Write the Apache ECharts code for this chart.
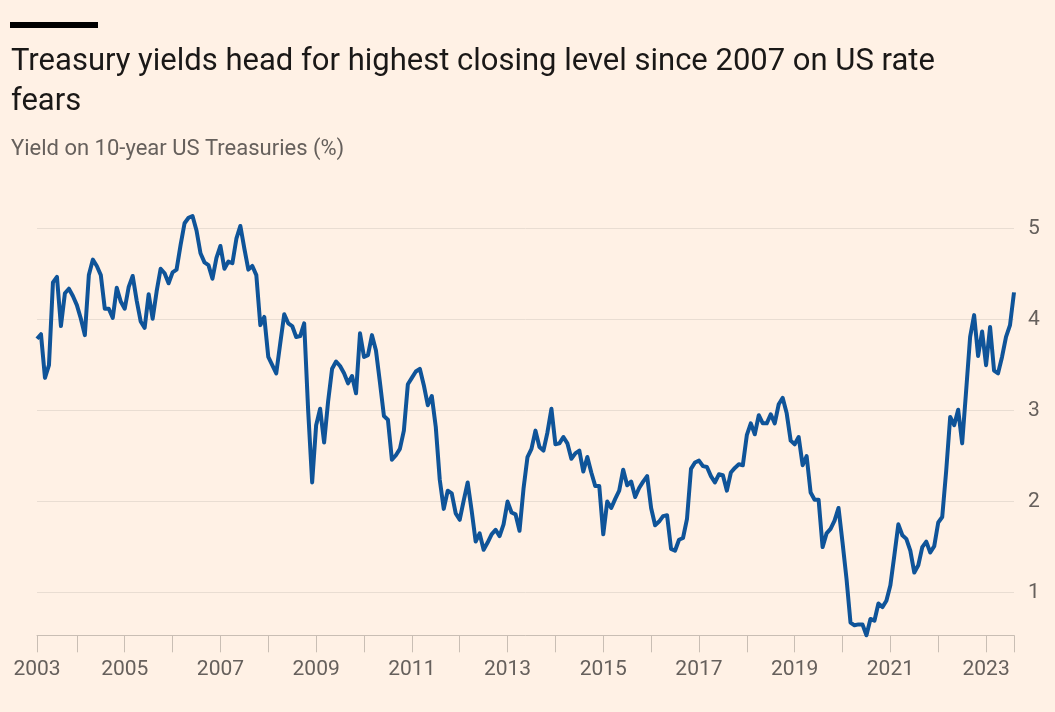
<!DOCTYPE html>
<html><head><meta charset="utf-8">
<script src="https://cdn.jsdelivr.net/npm/echarts@6/dist/echarts.min.js"></script>
<style>html,body{margin:0;padding:0;background:#fff1e5}#c{width:1055px;height:712px}</style>
</head><body><div id="c"></div><script>
const titleText = 'Treasury yields head for highest closing level since 2007 on US rate\nfears';
const subtitleText = 'Yield on 10-year US Treasuries (%)';

// Month-end yields; 2003 starts in March, 2023 ends in August
const startMonth2003 = 3;
const y2003 = [3.79, 3.84, 3.36, 3.50, 4.41, 4.47, 3.93, 4.29, 4.34, 4.26];
const y2004 = [4.16, 4.01, 3.83, 4.49, 4.66, 4.59, 4.49, 4.12, 4.12, 4.02, 4.35, 4.20];
const y2005 = [4.12, 4.36, 4.48, 4.21, 3.98, 3.91, 4.28, 4.01, 4.31, 4.56, 4.51, 4.40];
const y2006 = [4.52, 4.55, 4.82, 5.06, 5.12, 5.14, 4.98, 4.73, 4.63, 4.60, 4.45, 4.68];
const y2007 = [4.81, 4.56, 4.64, 4.62, 4.89, 5.03, 4.78, 4.55, 4.59, 4.49, 3.94, 4.03];
const y2008 = [3.59, 3.50, 3.41, 3.74, 4.06, 3.96, 3.93, 3.81, 3.82, 3.96, 3.00, 2.21];
const y2009 = [2.84, 3.02, 2.65, 3.10, 3.46, 3.54, 3.49, 3.41, 3.30, 3.38, 3.19, 3.85];
const y2010 = [3.59, 3.61, 3.83, 3.66, 3.31, 2.94, 2.90, 2.46, 2.51, 2.58, 2.78, 3.29];
const y2011 = [3.36, 3.43, 3.46, 3.28, 3.06, 3.16, 2.82, 2.24, 1.92, 2.12, 2.09, 1.87];
const y2012 = [1.80, 2.01, 2.21, 1.90, 1.56, 1.65, 1.47, 1.55, 1.64, 1.69, 1.62, 1.75];
const y2013 = [2.00, 1.88, 1.86, 1.68, 2.14, 2.49, 2.58, 2.78, 2.60, 2.56, 2.76, 3.02];
const y2014 = [2.63, 2.64, 2.71, 2.64, 2.47, 2.53, 2.56, 2.33, 2.49, 2.32, 2.17, 2.17];
const y2015 = [1.64, 2.00, 1.93, 2.03, 2.12, 2.35, 2.18, 2.22, 2.05, 2.15, 2.22, 2.28];
const y2016 = [1.93, 1.74, 1.78, 1.84, 1.85, 1.48, 1.46, 1.58, 1.60, 1.81, 2.36, 2.43];
const y2017 = [2.45, 2.39, 2.38, 2.28, 2.21, 2.30, 2.29, 2.12, 2.32, 2.37, 2.41, 2.40];
const y2018 = [2.73, 2.86, 2.74, 2.95, 2.86, 2.86, 2.96, 2.86, 3.07, 3.14, 2.97, 2.67];
const y2019 = [2.63, 2.71, 2.40, 2.50, 2.10, 2.02, 2.02, 1.50, 1.65, 1.70, 1.79, 1.93];
const y2020 = [1.55, 1.15, 0.67, 0.64, 0.65, 0.65, 0.53, 0.71, 0.69, 0.88, 0.84, 0.91];
const y2021 = [1.08, 1.41, 1.75, 1.63, 1.59, 1.46, 1.22, 1.30, 1.50, 1.56, 1.44, 1.51];
const y2022 = [1.77, 1.83, 2.34, 2.93, 2.84, 3.01, 2.64, 3.22, 3.81, 4.05, 3.60, 3.87];
const y2023 = [3.50, 3.92, 3.44, 3.41, 3.59, 3.81, 3.94, 4.30];

const yearly = [y2003, y2004, y2005, y2006, y2007, y2008, y2009, y2010, y2011, y2012, y2013,
  y2014, y2015, y2016, y2017, y2018, y2019, y2020, y2021, y2022, y2023];
const yTickLabels = ['1', '2', '3', '4', '5'];

const categories = [];
const values = [];
yearly.forEach((arr, k) => {
  const year = 2003 + k;
  const m0 = k === 0 ? startMonth2003 : 1;
  arr.forEach((v, j) => {
    const m = m0 + j;
    categories.push(year + '-' + (m < 10 ? '0' + m : m));
    values.push(v);
  });
});
const lastIdx = categories.length - 1;

const FONT = 'Roboto, "Noto Sans", sans-serif';
const tickFn = (i, v) => i === 0 || i === lastIdx || v.slice(5) === '01';
const labelFn = (i, v) => i === 0 || (v.slice(5) === '01' && (+v.slice(0, 4)) % 2 === 1 && +v.slice(0,4) > 2003);

const chart = echarts.init(document.getElementById('c'), null, {renderer: 'canvas'});
chart.setOption({
  backgroundColor: '#fff1e5',
  animation: false,
  title: [
    {text: titleText, left: 11, top: 42, padding: 0,
     textStyle: {fontFamily: FONT, fontSize: 31, fontWeight: 'normal', color: '#1a1817', lineHeight: 40}},
    {text: subtitleText, left: 11, top: 136, padding: 0,
     textStyle: {fontFamily: FONT, fontSize: 22, fontWeight: 'normal', color: '#66605c', lineHeight: 26}}
  ],
  graphic: [{type: 'rect', left: 10, top: 22, shape: {width: 88, height: 6}, style: {fill: '#000'}}],
  grid: {left: 37, right: 41, top: 228.7, bottom: 76.7, containLabel: false},
  xAxis: {
    type: 'category', data: categories, boundaryGap: false,
    axisLine: {lineStyle: {color: '#c9beb4', width: 1}},
    axisTick: {show: true, interval: tickFn, length: 17, lineStyle: {color: '#c9beb4'}},
    axisLabel: {interval: labelFn, formatter: v => v.slice(0, 4), margin: 24,
      fontFamily: FONT, fontSize: 21, color: '#66605c'},
    splitLine: {show: false}
  },
  yAxis: {
    type: 'value', position: 'right', min: 0.53, max: 5,
    axisLine: {show: false}, axisTick: {show: false},
    axisLabel: {showMinLabel: false, margin: 14, fontFamily: FONT, fontSize: 21, color: '#66605c',
      formatter: v => yTickLabels.indexOf(String(v)) >= 0 ? String(v) : ''},
    splitLine: {lineStyle: {color: '#e9ddd2', width: 1}}
  },
  series: [{type: 'line', data: values, symbol: 'none', clip: false, z: 5,
    lineStyle: {color: '#0f5499', width: 4, join: 'round'}}]
});
</script></body></html>
